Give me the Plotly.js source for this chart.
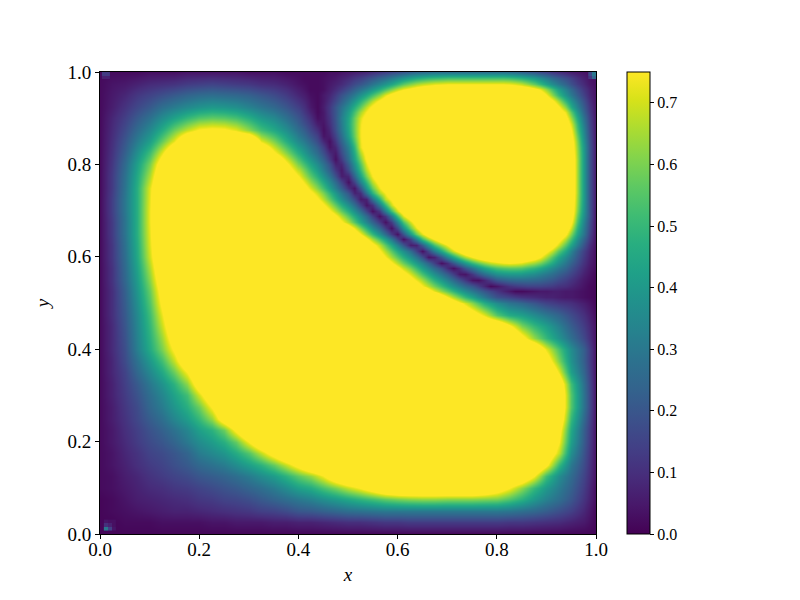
<!DOCTYPE html>
<html>
<head>
<meta charset="utf-8">
<script src="https://cdn.plot.ly/plotly-3.0.1.min.js"></script>
<style>html,body{margin:0;padding:0;background:#fff}</style>
</head>
<body>
<div id="chart" style="width:800px;height:600px"></div>
<script>
// grid positions, one row of zRows per entry of yGrid
var xGrid = [0,.025,.05,.075,.1,.125,.15,.175,.2,.225,.25,.275,.3,.325,.35,.375,.4,.425,.45,.475,.5,.525,.55,.575,.6,.625,.65,.675,.7,.725,.75,.775,.8,.825,.85,.875,.9,.925,.95,.975,1];
var yGrid = [0,.025,.05,.075,.1,.125,.15,.175,.2,.225,.25,.275,.3,.325,.35,.375,.4,.425,.45,.475,.5,.525,.55,.575,.6,.625,.65,.675,.7,.725,.75,.775,.8,.825,.85,.875,.9,.925,.95,.975,1];
// values, anything above .75 just shows as full yellow
var zRows = [
[.01,.01,.01,.01,.01,.01,.01,.01,.01,.01,.01,.01,.01,.01,.01,.01,.01,.01,.01,.01,.01,.01,.01,.01,.01,.01,.01,.01,.01,.01,.01,.01,.01,.01,.01,.01,.01,.01,.01,.01,.01],
[.01,.01,.02,.02,.02,.03,.03,.03,.03,.04,.04,.05,.05,.05,.06,.06,.07,.07,.08,.09,.1,.1,.11,.12,.12,.13,.13,.13,.13,.13,.13,.13,.13,.12,.12,.11,.1,.09,.07,.05,.01],
[.01,.02,.03,.04,.05,.06,.07,.07,.08,.09,.1,.11,.12,.14,.15,.17,.2,.21,.23,.25,.27,.28,.29,.3,.3,.3,.3,.3,.3,.3,.3,.3,.3,.29,.27,.25,.22,.18,.14,.08,.01],
[.01,.02,.04,.06,.07,.08,.09,.1,.12,.13,.15,.16,.18,.21,.24,.27,.3,.33,.37,.41,.45,.49,.53,.57,.6,.62,.63,.63,.62,.62,.62,.61,.6,.55,.48,.4,.33,.27,.2,.11,.02],
[.02,.03,.05,.07,.09,.1,.12,.13,.15,.17,.19,.21,.24,.27,.31,.36,.42,.46,.53,.6,.68,.75,.85,.95,1,1,1,1,1,1,1,.95,.85,.75,.62,.5,.4,.31,.23,.13,.02],
[.02,.03,.06,.08,.11,.13,.15,.17,.2,.22,.24,.27,.31,.36,.41,.48,.56,.63,.74,.9,1,1,1,1,1,1,1,1,1,1,1,1,1,1,.92,.75,.52,.36,.26,.15,.03],
[.02,.04,.07,.1,.13,.15,.18,.21,.25,.28,.31,.36,.42,.48,.57,.68,.8,.95,1,1,1,1,1,1,1,1,1,1,1,1,1,1,1,1,1,.98,.78,.5,.3,.17,.03],
[.02,.04,.08,.11,.15,.17,.2,.24,.31,.35,.39,.46,.55,.68,.83,.97,1,1,1,1,1,1,1,1,1,1,1,1,1,1,1,1,1,1,1,1,.92,.68,.37,.19,.03],
[.02,.05,.09,.13,.17,.2,.24,.3,.36,.41,.47,.57,.75,.92,1,1,1,1,1,1,1,1,1,1,1,1,1,1,1,1,1,1,1,1,1,1,.98,.75,.42,.21,.03],
[.02,.05,.1,.14,.19,.23,.28,.34,.42,.48,.58,.78,.98,1,1,1,1,1,1,1,1,1,1,1,1,1,1,1,1,1,1,1,1,1,1,1,1,.8,.45,.22,.03],
[.02,.06,.11,.16,.22,.27,.34,.41,.5,.63,.85,1,1,1,1,1,1,1,1,1,1,1,1,1,1,1,1,1,1,1,1,1,1,1,1,1,1,.88,.5,.25,.03],
[.02,.06,.12,.17,.25,.31,.39,.47,.58,.76,.95,1,1,1,1,1,1,1,1,1,1,1,1,1,1,1,1,1,1,1,1,1,1,1,1,1,1,.92,.55,.28,.03],
[.02,.07,.13,.19,.27,.34,.43,.52,.7,.9,1,1,1,1,1,1,1,1,1,1,1,1,1,1,1,1,1,1,1,1,1,1,1,1,1,1,1,.92,.55,.28,.03],
[.02,.07,.14,.21,.3,.38,.48,.62,.85,1,1,1,1,1,1,1,1,1,1,1,1,1,1,1,1,1,1,1,1,1,1,1,1,1,1,1,1,.88,.52,.27,.03],
[.02,.08,.15,.25,.35,.45,.58,.75,.95,1,1,1,1,1,1,1,1,1,1,1,1,1,1,1,1,1,1,1,1,1,1,1,1,1,1,1,1,.72,.42,.24,.03],
[.02,.08,.17,.28,.4,.52,.68,.9,1,1,1,1,1,1,1,1,1,1,1,1,1,1,1,1,1,1,1,1,1,1,1,1,1,1,1,1,.85,.6,.38,.22,.03],
[.02,.09,.18,.32,.46,.6,.77,.97,1,1,1,1,1,1,1,1,1,1,1,1,1,1,1,1,1,1,1,1,1,1,1,1,1,1,1,.95,.72,.53,.36,.22,.03],
[.02,.09,.19,.33,.48,.64,.84,1,1,1,1,1,1,1,1,1,1,1,1,1,1,1,1,1,1,1,1,1,1,1,1,1,1,1,.8,.63,.5,.38,.27,.16,.03],
[.02,.09,.2,.34,.5,.69,.9,1,1,1,1,1,1,1,1,1,1,1,1,1,1,1,1,1,1,1,1,1,1,1,1,1,.95,.78,.6,.5,.42,.32,.22,.13,.03],
[.02,.1,.21,.35,.52,.73,.95,1,1,1,1,1,1,1,1,1,1,1,1,1,1,1,1,1,1,1,1,1,1,.97,.85,.72,.55,.46,.42,.36,.3,.24,.17,.1,.02],
[.02,.1,.22,.37,.55,.78,1,1,1,1,1,1,1,1,1,1,1,1,1,1,1,1,1,1,1,1,1,1,.92,.77,.62,.47,.36,.29,.25,.2,.15,.12,.1,.06,.01],
[.02,.1,.23,.39,.58,.82,1,1,1,1,1,1,1,1,1,1,1,1,1,1,1,1,1,1,1,1,.9,.72,.57,.42,.3,.2,.12,.05,.02,.03,.04,.05,.05,.03,.01],
[.02,.11,.25,.41,.62,.87,1,1,1,1,1,1,1,1,1,1,1,1,1,1,1,1,1,1,1,.82,.65,.48,.33,.2,.03,.07,.17,.22,.22,.2,.17,.13,.09,.05,.01],
[.02,.11,.26,.43,.66,.92,1,1,1,1,1,1,1,1,1,1,1,1,1,1,1,1,1,1,.78,.6,.42,.27,.07,.08,.22,.42,.5,.5,.5,.45,.38,.28,.18,.09,.02],
[.02,.12,.27,.45,.7,.96,1,1,1,1,1,1,1,1,1,1,1,1,1,1,1,1,1,.75,.58,.42,.17,.06,.22,.45,.75,.85,.9,.9,.88,.78,.6,.42,.27,.13,.02],
[.02,.12,.28,.46,.72,.98,1,1,1,1,1,1,1,1,1,1,1,1,1,1,1,1,.78,.55,.3,.06,.15,.45,.75,.95,1,1,1,1,1,1,.88,.62,.38,.18,.02],
[.02,.13,.29,.47,.73,1,1,1,1,1,1,1,1,1,1,1,1,1,1,1,1,.75,.5,.25,.04,.2,.7,.95,1,1,1,1,1,1,1,1,1,.88,.55,.25,.02],
[.02,.13,.29,.47,.74,1,1,1,1,1,1,1,1,1,1,1,1,1,1,.85,.68,.48,.28,.04,.3,.7,.95,1,1,1,1,1,1,1,1,1,1,1,.75,.35,.02],
[.02,.14,.3,.47,.74,1,1,1,1,1,1,1,1,1,1,1,1,1,.87,.68,.48,.28,.04,.35,.7,.95,1,1,1,1,1,1,1,1,1,1,1,1,.82,.42,.02],
[.02,.14,.3,.47,.73,1,1,1,1,1,1,1,1,1,1,1,1,.87,.68,.48,.28,.07,.2,.62,.95,1,1,1,1,1,1,1,1,1,1,1,1,1,.85,.42,.03],
[.02,.13,.29,.47,.72,.98,1,1,1,1,1,1,1,1,1,1,.9,.72,.52,.32,.1,.12,.55,.92,1,1,1,1,1,1,1,1,1,1,1,1,1,1,.88,.42,.03],
[.02,.13,.28,.45,.66,.93,1,1,1,1,1,1,1,1,1,.92,.75,.55,.38,.2,.03,.35,.75,1,1,1,1,1,1,1,1,1,1,1,1,1,1,1,.88,.42,.03],
[.02,.12,.26,.42,.6,.85,1,1,1,1,1,1,1,1,1,.78,.6,.42,.27,.08,.15,.55,.9,1,1,1,1,1,1,1,1,1,1,1,1,1,1,1,.88,.42,.03],
[.02,.11,.23,.37,.52,.72,.95,1,1,1,1,1,1,1,.77,.62,.47,.33,.17,.03,.3,.7,1,1,1,1,1,1,1,1,1,1,1,1,1,1,1,1,.85,.42,.03],
[.02,.1,.2,.31,.42,.57,.72,.95,1,1,1,1,1,.72,.6,.47,.35,.22,.06,.12,.42,.72,1,1,1,1,1,1,1,1,1,1,1,1,1,1,1,1,.8,.38,.03],
[.02,.09,.17,.26,.35,.46,.58,.68,.76,.78,.77,.72,.62,.52,.45,.37,.27,.16,.04,.2,.48,.72,1,1,1,1,1,1,1,1,1,1,1,1,1,1,1,.95,.75,.35,.03],
[.02,.08,.14,.21,.28,.36,.43,.5,.55,.57,.56,.53,.47,.4,.35,.28,.2,.11,.03,.22,.5,.72,.95,1,1,1,1,1,1,1,1,1,1,1,1,1,.95,.78,.55,.28,.03],
[.02,.06,.11,.16,.21,.27,.31,.35,.38,.4,.39,.37,.33,.29,.25,.2,.14,.05,.04,.22,.42,.58,.73,.92,1,1,1,1,1,1,1,1,1,1,1,1,1,.78,.45,.22,.03],
[.02,.05,.08,.12,.15,.18,.21,.24,.26,.27,.26,.25,.23,.2,.17,.13,.08,.03,.05,.18,.3,.4,.5,.65,.83,.95,1,1,1,1,1,1,1,1,1,.97,.8,.55,.3,.15,.03],
[.02,.04,.05,.07,.09,.1,.11,.13,.14,.15,.14,.13,.12,.1,.09,.07,.04,.02,.04,.1,.17,.23,.3,.38,.47,.6,.7,.75,.77,.77,.77,.77,.77,.76,.72,.6,.45,.3,.17,.08,.03],
[.02,.02,.02,.02,.03,.03,.03,.04,.04,.04,.04,.04,.03,.03,.03,.02,.02,.01,.02,.03,.05,.07,.09,.11,.14,.17,.2,.2,.2,.2,.2,.2,.2,.2,.18,.14,.1,.07,.05,.03,.02]
];
// finer read of the upper right part, where the thin dark curve runs
var fineX = [.4,.4125,.425,.4375,.45,.4625,.475,.4875,.5,.5125,.525,.5375,.55,.5625,.575,.5875,.6,.6125,.625,.6375,.65,.6625,.675,.6875,.7,.7125,.725,.7375,.75,.7625,.775,.7875,.8,.8125,.825,.8375,.85,.8625,.875,.8875,.9,.9125,.925,.9375,.95,.9625,.975,.9875,1];
var fineY = [.5,.5125,.525,.5375,.55,.5625,.575,.5875,.6,.6125,.625,.6375,.65,.6625,.675,.6875,.7,.7125,.725,.7375,.75,.7625,.775,.7875,.8,.8125,.825,.8375,.85,.8625,.875,.8875,.9,.9125,.925,.9375,.95,.9625,.975,.9875,1];
var fineRows = [
[1,1,1,1,1,1,1,1,1,1, 1,1,1,1,1,1,1,1,1,1, 1,1,1,1, .92,.85,.77,.69,.62,.54,.47,.41,.36,.32,.29,.27,.25,.22,.2,.17,.15,.14,.12,.11,.1,.08,.06,.04,.01],
[1,1,1,1,1,1,1,1,1,1, 1,1,1,1,1,1,1,1,1,1, 1,1,1, .85,.75,.66,.58,.5,.43,.36,.3,.24,.19,.17,.15,.13,.11,.1,.09,.08,.07,.07,.06,.05,.05,.04,.03,.02,.01],
[1,1,1,1,1,1,1,1,1,1, 1,1,1,1,1,1,1,1,1,1, 1, .82,.72,.63,.56,.49,.42,.36,.3,.25,.2,.16,.12,.08,.05,.02,.02,.03,.04,.05,.05,.06,.06,.05,.05,.04,.03,.02,.01],
[1,1,1,1,1,1,1,1,1,1, 1,1,1,1,1,1,1,1,1, .85,.75,.67,.59,.51,.44,.37,.31,.25,.2,.14,.08,.02,.04,.08,.11,.13,.14,.15,.15,.15,.14,.13,.11,.1,.08,.06,.04,.02,.01],
[1,1,1,1,1,1,1,1,1,1, 1,1,1,1,1,1,1, .92,.82,.73,.65,.56,.48,.4,.33,.26,.19,.12,.04,.03,.08,.14,.2,.23,.25,.26,.26,.26,.25,.24,.22,.2,.17,.14,.11,.08,.05,.03,.01],
[1,1,1,1,1,1,1,1,1,1, 1,1,1,1,1,1, .92,.81,.71,.62,.53,.45,.37,.29,.22,.14,.05,.04,.12,.2,.27,.32,.37,.39,.4,.4,.4,.38,.36,.33,.3,.27,.23,.19,.15,.11,.07,.04,.01],
[1,1,1,1,1,1,1,1,1,1, 1,1,1,1,1, .9,.79,.69,.6,.51,.42,.34,.26,.18,.09,.03,.1,.2,.29,.37,.44,.49,.53,.55,.56,.56,.55,.52,.49,.45,.4,.35,.3,.25,.19,.14,.09,.05,.02],
[1,1,1,1,1,1,1,1,1,1, 1,1,1,1, .88,.77,.67,.58,.49,.41,.33,.24,.14,.03,.09,.2,.3,.4,.5,.57,.63,.68,.71,.74,.75,.74,.72,.68,.64,.59,.52,.45,.37,.3,.23,.17,.11,.06,.02],
[1,1,1,1,1,1,1,1,1,1, 1,1,1, .85,.75,.65,.56,.47,.38,.29,.18,.04,.07,.2,.33,.45,.56,.66,.75,.82,.87,.9,.92,.94,.95,.94,.92,.88,.82,.75,.65,.55,.45,.36,.28,.2,.13,.07,.02],
[1,1,1,1,1,1,1,1,1,1, 1,1, .88,.77,.66,.56,.46,.37,.27,.15,.03,.16,.31,.45,.58,.7,.8,.9,.97, 1,1,1,1,1,1,1,1,1, .97,.87,.78,.68,.56,.45,.33,.23,.15,.08,.02],
[1,1,1,1,1,1,1,1,1,1, 1, .92,.8,.68,.56,.45,.33,.2,.06,.07,.22,.38,.53,.65,.75,.87,.96, 1,1,1,1,1,1,1,1,1,1,1,1,1, .93,.83,.7,.56,.43,.31,.2,.1,.02],
[1,1,1,1,1,1,1,1,1,1, .92,.78,.65,.53,.42,.3,.16,.03,.15,.33,.52,.65,.76,.88,.97, 1,1,1,1,1,1,1,1,1,1,1,1,1,1,1,1, .93,.81,.67,.52,.37,.25,.13,.02],
[1,1,1,1,1,1,1,1,1, .87,.75,.62,.5,.38,.26,.13,.03,.2,.4,.58,.72,.85,.95, 1,1,1,1,1,1,1,1,1,1,1,1,1,1,1,1,1,1,1, .9,.78,.6,.43,.3,.15,.02],
[1,1,1,1,1,1,1,1, .85,.73,.6,.48,.36,.25,.13,.03,.17,.38,.58,.73,.86,.96, 1,1,1,1,1,1,1,1,1,1,1,1,1,1,1,1,1,1,1,1,1, .87,.69,.48,.32,.17,.02],
[1,1,1,1,1,1, .88,.77,.66,.55,.44,.34,.24,.13,.03,.13,.32,.54,.7,.84,.95, 1,1,1,1,1,1,1,1,1,1,1,1,1,1,1,1,1,1,1,1,1,1, .93,.77,.53,.35,.18,.02],
[1,1,1,1,1, .9,.78,.67,.56,.46,.36,.26,.14,.03,.12,.3,.52,.72,.86,.96, 1,1,1,1,1,1,1,1,1,1,1,1,1,1,1,1,1,1,1,1,1,1,1,1, .82,.57,.38,.2,.02],
[1,1,1,1, .87,.77,.67,.57,.47,.37,.27,.15,.03,.12,.32,.52,.7,.85,.95, 1,1,1,1,1,1,1,1,1,1,1,1,1,1,1,1,1,1,1,1,1,1,1,1,1, .85,.6,.4,.2,.02],
[1,1,1, .88,.77,.67,.57,.47,.37,.27,.15,.04,.1,.3,.5,.69,.82,.93, 1,1,1,1,1,1,1,1,1,1,1,1,1,1,1,1,1,1,1,1,1,1,1,1,1,1, .86,.62,.41,.2,.03],
[1,1, .87,.77,.67,.57,.47,.37,.27,.17,.05,.07,.28,.48,.68,.77,.9,.98, 1,1,1,1,1,1,1,1,1,1,1,1,1,1,1,1,1,1,1,1,1,1,1,1,1,1, .87,.63,.42,.2,.03],
[1, .92,.79,.69,.6,.5,.4,.3,.2,.07,.09,.28,.48,.65,.75,.88,.97, 1,1,1,1,1,1,1,1,1,1,1,1,1,1,1,1,1,1,1,1,1,1,1,1,1,1,1, .88,.64,.42,.2,.03],
[.9,.81,.71,.61,.52,.42,.32,.22,.1,.04,.2,.4,.58,.73,.85,.95, 1,1,1,1,1,1,1,1,1,1,1,1,1,1,1,1,1,1,1,1,1,1,1,1,1,1,1,1, .88,.64,.42,.2,.03],
[.83,.73,.63,.54,.45,.36,.26,.15,.03,.15,.33,.5,.67,.8,.92, 1,1,1,1,1,1,1,1,1,1,1,1,1,1,1,1,1,1,1,1,1,1,1,1,1,1,1,1,1, .89,.64,.42,.2,.03],
[.75,.65,.56,.47,.38,.29,.18,.06,.08,.25,.43,.6,.75,.88,.97, 1,1,1,1,1,1,1,1,1,1,1,1,1,1,1,1,1,1,1,1,1,1,1,1,1,1,1,1,1, .89,.64,.42,.2,.03],
[.68,.59,.5,.41,.32,.23,.12,.05,.17,.33,.5,.67,.8,.92,1, 1,1,1,1,1,1,1,1,1,1,1,1,1,1,1,1,1,1,1,1,1,1,1,1,1,1,1,1,1, .89,.64,.42,.2,.03],
[.6,.52,.44,.36,.28,.19,.07,.08,.22,.38,.55,.72,.85,.96,1, 1,1,1,1,1,1,1,1,1,1,1,1,1,1,1,1,1,1,1,1,1,1,1,1,1,1,1,1,1, .88,.64,.42,.2,.03],
[.54,.46,.39,.31,.23,.13,.03,.13,.27,.43,.6,.77,.9,1,1, 1,1,1,1,1,1,1,1,1,1,1,1,1,1,1,1,1,1,1,1,1,1,1,1,1,1,1,1,1, .88,.64,.42,.2,.03],
[.47,.4,.33,.26,.18,.09,.05,.17,.3,.46,.66,.8,.92,1,1, 1,1,1,1,1,1,1,1,1,1,1,1,1,1,1,1,1,1,1,1,1,1,1,1,1,1,1,1,1, .86,.63,.42,.2,.03],
[.41,.35,.29,.22,.14,.04,.08,.2,.33,.5,.72,.84,.95,1,1, 1,1,1,1,1,1,1,1,1,1,1,1,1,1,1,1,1,1,1,1,1,1,1,1,1,1,1,1,1, .84,.62,.41,.2,.03],
[.35,.3,.24,.17,.08,.03,.12,.24,.38,.55,.73,.85,.95,1,1, 1,1,1,1,1,1,1,1,1,1,1,1,1,1,1,1,1,1,1,1,1,1,1,1,1,1,1,1,1, .82,.6,.39,.19,.03],
[.31,.26,.2,.14,.04,.06,.15,.27,.42,.58,.74,.86,.95,1,1, 1,1,1,1,1,1,1,1,1,1,1,1,1,1,1,1,1,1,1,1,1,1,1,1,1,1,1,1, .97,.79,.57,.37,.18,.03],
[.27,.22,.16,.1,.03,.08,.18,.3,.44,.59,.74,.85,.95,1,1, 1,1,1,1,1,1,1,1,1,1,1,1,1,1,1,1,1,1,1,1,1,1,1,1,1,1,1,1, .92,.75,.53,.35,.17,.03],
[.23,.18,.13,.06,.04,.1,.19,.31,.45,.59,.73,.84,.94,1,1, 1,1,1,1,1,1,1,1,1,1,1,1,1,1,1,1,1,1,1,1,1,1,1,1,1,1,1, .98,.87,.7,.5,.32,.16,.03],
[.2,.15,.1,.03,.05,.11,.2,.32,.44,.58,.71,.81,.92,1,1, 1,1,1,1,1,1,1,1,1,1,1,1,1,1,1,1,1,1,1,1,1,1,1,1,1,1,1, .93,.81,.63,.45,.29,.15,.03],
[.17,.12,.07,.02,.05,.12,.2,.3,.41,.53,.65,.75,.85,.94,1, 1,1,1,1,1,1,1,1,1,1,1,1,1,1,1,1,1,1,1,1,1,1,1,1,1,1, .97,.85,.73,.55,.39,.25,.13,.03],
[.14,.1,.05,.02,.06,.12,.2,.28,.37,.47,.57,.68,.78,.87,.94,1, 1,1,1,1,1,1,1,1,1,1,1,1,1,1,1,1,1,1,1,1,1,1,1,1,1, .9,.77,.62,.45,.33,.22,.12,.03],
[.11,.08,.04,.02,.05,.1,.16,.23,.31,.39,.48,.57,.67,.77,.85,.92,.98, 1,1,1,1,1,1,1,1,1,1,1,1,1,1,1,1,1,1,1,1,1,1,1, .88,.78,.65,.5,.38,.28,.19,.1,.03],
[.08,.06,.03,.02,.05,.08,.13,.19,.25,.31,.38,.45,.53,.62,.72,.8,.87,.93,.98, 1,1,1,1,1,1,1,1,1,1,1,1,1,1,1,1,1,1,1, .97,.88,.75,.62,.5,.39,.3,.22,.15,.08,.03],
[.06,.04,.02,.02,.03,.06,.09,.13,.18,.23,.28,.33,.39,.46,.53,.6,.67,.73,.77,.81,.84,.86,.87,.88,.88,.88,.88,.88,.88,.88,.88,.88,.88,.88,.88,.87,.86,.84,.78,.72,.62,.52,.42,.33,.25,.18,.12,.07,.03],
[.04,.03,.02,.02,.03,.05,.07,.09,.13,.17,.2,.24,.29,.34,.39,.44,.5,.56,.61,.65,.68,.7,.72,.73,.74,.74,.74,.74,.74,.74,.74,.74,.74,.74,.73,.71,.68,.63,.57,.5,.43,.36,.3,.24,.18,.13,.09,.05,.03],
[.03,.02,.02,.02,.03,.04,.05,.07,.09,.12,.14,.17,.2,.24,.27,.31,.35,.39,.43,.46,.48,.5,.51,.52,.53,.53,.53,.53,.53,.53,.53,.53,.53,.53,.52,.5,.48,.45,.41,.36,.31,.26,.22,.18,.14,.1,.07,.04,.03],
[.02,.02,.02,.02,.02,.03,.03,.04,.05,.06,.07,.08,.1,.12,.14,.16,.18,.2,.23,.25,.26,.27,.28,.28,.28,.28,.28,.28,.28,.28,.28,.28,.28,.28,.27,.26,.24,.22,.2,.17,.15,.12,.1,.08,.06,.05,.04,.03,.03]
];
// small bright cells sitting in the corners of the grid
var cornerX = [.0117,.0195,.0273];
var cornerY = [.0117,.0195,.0273];
var cornerZ = [[.3,.14,.04],[.1,.07,.03],[.04,.03,.03]];
var topRightX = [.9883,.9961];
var topRightY = [.9883,.9961];
var topRightZ = [[.12,.24],[.16,.3]];
var topLeftX = [.0078,.0156];
var topLeftY = [.9883,.9961];
var topLeftZ = [[.07,.07],[.13,.13]];
var cbTicks = [0,.1,.2,.3,.4,.5,.6,.7];
var axisTicks = [0,.2,.4,.6,.8,1];
var serif = "'Liberation Serif', serif";

var trace = {
  type: "heatmap",
  x: xGrid,
  y: yGrid,
  z: zRows,
  zmin: 0,
  zmax: .75,
  zsmooth: "best",
  colorscale: "Viridis",
  colorbar: {
    xref: "container",
    x: 627 / 800,
    xanchor: "left",
    xpad: 0,
    ypad: 0,
    thickness: 23,
    len: 1,
    outlinewidth: 1,
    outlinecolor: "#000",
    ticks: "outside",
    ticklen: 4,
    tickwidth: 1,
    tickcolor: "#000",
    tickvals: cbTicks,
    ticktext: cbTicks.map(function (v) { return v.toFixed(1); }),
    tickfont: {family: serif, size: 16, color: "#000"}
  }
};

// plotly stretches the outer cells by half a step, so repeat the first column and row
// right next to themselves to stop the fine patch spilling over the coarse one
var fineZ = [fineRows[0]].concat(fineRows).map(function (r) { return [r[0]].concat(r); });
var fine = {type: "heatmap", x: [.3999].concat(fineX), y: [.4999].concat(fineY), z: fineZ, zmin: 0, zmax: .75, zsmooth: "best", colorscale: "Viridis", showscale: false, hoverinfo: "skip"};

function patch(x, y, z) {
  return {type: "heatmap", x: x, y: y, z: z, zmin: 0, zmax: .75, colorscale: "Viridis", showscale: false, hoverinfo: "skip"};
}

function axis(label, standoff, labelShift) {
  return {
    title: {text: "<i>" + label + "</i>", font: {family: serif, size: 19, color: "#000"}, standoff: standoff},
    range: [0, 1],
    tickvals: axisTicks,
    ticktext: axisTicks.map(function (v) { return v.toFixed(1); }),
    tickfont: {family: serif, size: 19, color: "#000"},
    ticklabelstandoff: labelShift,
    ticks: "outside",
    ticklen: 4,
    tickwidth: 1,
    tickcolor: "#000",
    showgrid: false,
    zeroline: false,
    showline: true,
    linecolor: "#000",
    linewidth: 1,
    mirror: true
  };
}

var layout = {
  width: 800,
  height: 600,
  margin: {l: 100, r: 204, t: 72, b: 66},
  paper_bgcolor: "#fff",
  plot_bgcolor: "#fff",
  xaxis: axis("x", 8, -6),
  yaxis: axis("y", 12, 0)
};

Plotly.newPlot("chart", [trace, fine, patch(cornerX, cornerY, cornerZ), patch(topRightX, topRightY, topRightZ), patch(topLeftX, topLeftY, topLeftZ)], layout, {displayModeBar: false});
</script>
</body>
</html>
